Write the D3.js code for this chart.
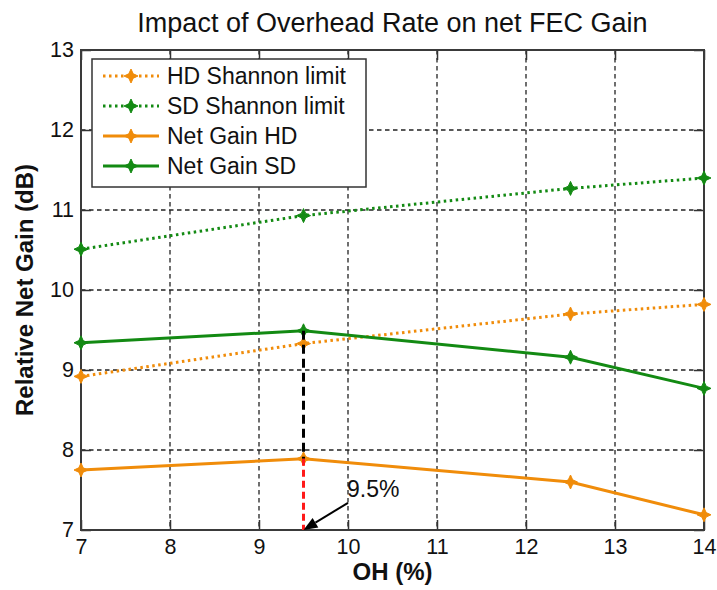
<!DOCTYPE html>
<html>
<head>
<meta charset="utf-8">
<script src="https://cdn.jsdelivr.net/npm/d3@7"></script>
<style>
  html, body { margin: 0; padding: 0; background: #fff; }
  svg { display: block; font-family: "Liberation Sans", Arial, sans-serif; }
</style>
</head>
<body>
<svg id="chart" width="717" height="590"></svg>
<script>
// ---- data ----
const ohValues = [7, 9.5, 12.5, 14];
const hdShannon = [8.92, 9.33, 9.70, 9.82];
const sdShannon = [10.51, 10.93, 11.27, 11.40];
const netGainHD = [7.75, 7.89, 7.60, 7.19];
const netGainSD = [9.34, 9.49, 9.16, 8.77];
const xTicks = [7, 8, 9, 10, 11, 12, 13, 14];
const yTicks = [7, 8, 9, 10, 11, 12, 13];
const seriesNames = ["HD Shannon limit", "SD Shannon limit", "Net Gain HD", "Net Gain SD"];
const optimumOH = 9.5;
const annotationText = "9.5%";
const annotationTail = [10.0, 7.34];
const titleText = "Impact of Overhead Rate on net FEC Gain";
const xLabel = "OH (%)";
const yLabel = "Relative Net Gain (dB)";

// ---- styles ----
const ORANGE = "#f08c0a";
const GREEN = "#138a13";
const series = [
  { name: seriesNames[0], values: hdShannon, color: ORANGE, dash: "2.5,3.5" },
  { name: seriesNames[1], values: sdShannon, color: GREEN, dash: "2.5,3.5" },
  { name: seriesNames[2], values: netGainHD, color: ORANGE, dash: null },
  { name: seriesNames[3], values: netGainSD, color: GREEN, dash: null }
];

const svg = d3.select("#chart");
const L = 81, R = 704, T = 50, B = 530;
const x = d3.scaleLinear().domain([7, 14]).range([L, R]);
const y = d3.scaleLinear().domain([7, 13]).range([B, T]);

// grid
const grid = svg.append("g").attr("stroke", "#222").attr("stroke-width", 1.3).attr("stroke-dasharray", "4.5,3.5");
grid.selectAll("line.vx").data(xTicks.slice(1, -1)).join("line")
  .attr("x1", d => x(d)).attr("x2", d => x(d)).attr("y1", T).attr("y2", B);
grid.selectAll("line.hy").data(yTicks.slice(1, -1)).join("line")
  .attr("y1", d => y(d)).attr("y2", d => y(d)).attr("x1", L).attr("x2", R);

// axes
const fontTick = "21.5px";
const axB = svg.append("g").attr("transform", `translate(0,${B})`)
  .call(d3.axisBottom(x).tickValues(xTicks).tickFormat(d3.format("d")).tickSizeInner(-10).tickSizeOuter(0).tickPadding(9));
const axL = svg.append("g").attr("transform", `translate(${L},0)`)
  .call(d3.axisLeft(y).tickValues(yTicks).tickFormat(d3.format("d")).tickSizeInner(-10).tickSizeOuter(0).tickPadding(7));
const axT = svg.append("g").attr("transform", `translate(0,${T})`)
  .call(d3.axisTop(x).tickValues(xTicks).tickFormat("").tickSizeInner(-10).tickSizeOuter(0));
const axR = svg.append("g").attr("transform", `translate(${R},0)`)
  .call(d3.axisRight(y).tickValues(yTicks).tickFormat("").tickSizeInner(-10).tickSizeOuter(0));
[axB, axL, axT, axR].forEach(a => {
  a.select(".domain").remove();
  a.selectAll(".tick line").attr("stroke", "#333").attr("stroke-width", 1.5);
  a.selectAll(".tick text").attr("fill", "#111").style("font-size", fontTick).style("font-family", "'Liberation Sans', Arial, sans-serif");
});
svg.append("rect").attr("x", L).attr("y", T).attr("width", R - L).attr("height", B - T)
  .attr("fill", "none").attr("stroke", "#3a3a3a").attr("stroke-width", 2);

// marker
function starPath(Ro, ri) {
  const p = [[0,-Ro],[ri,-ri],[Ro,0],[ri,ri],[0,Ro],[-ri,ri],[-Ro,0],[-ri,-ri]];
  return "M" + p.map(q => q.join(",")).join("L") + "Z";
}
const markerD = starPath(7, 2.2);

// lines
const line = d3.line().x((d, i) => x(ohValues[i])).y(d => y(d));
series.forEach(s => {
  svg.append("path").attr("d", line(s.values)).attr("fill", "none")
    .attr("stroke", s.color).attr("stroke-width", 3)
    .attr("stroke-dasharray", s.dash);
  svg.selectAll(null).data(s.values).join("path")
    .attr("d", markerD)
    .attr("transform", (d, i) => `translate(${x(ohValues[i])},${y(d)})`)
    .attr("fill", s.color).attr("stroke", s.color).attr("stroke-width", 1);
});

// annotation lines
const idxOpt = ohValues.indexOf(optimumOH);
svg.append("line").attr("x1", x(optimumOH)).attr("x2", x(optimumOH))
  .attr("y1", y(netGainSD[idxOpt])).attr("y2", y(netGainHD[idxOpt]))
  .attr("stroke", "#000").attr("stroke-width", 3).attr("stroke-dasharray", "9,5");
svg.append("line").attr("x1", x(optimumOH)).attr("x2", x(optimumOH))
  .attr("y1", y(netGainHD[idxOpt])).attr("y2", y(7))
  .attr("stroke", "#ff1a1a").attr("stroke-width", 3).attr("stroke-dasharray", "7,4");

// arrow
const ax0 = x(annotationTail[0]), ay0 = y(annotationTail[1]);
const ax1 = x(optimumOH), ay1 = y(7);
const ang = Math.atan2(ay1 - ay0, ax1 - ax0);
const hl = 14, hw = 5.5;
const bx = ax1 - hl * Math.cos(ang), by = ay1 - hl * Math.sin(ang);
svg.append("line").attr("x1", ax0).attr("y1", ay0).attr("x2", bx).attr("y2", by)
  .attr("stroke", "#000").attr("stroke-width", 2);
svg.append("path")
  .attr("d", `M${ax1},${ay1}L${bx + hw * Math.sin(ang)},${by - hw * Math.cos(ang)}L${bx - hw * Math.sin(ang)},${by + hw * Math.cos(ang)}Z`)
  .attr("fill", "#000");
svg.append("text").attr("x", x(annotationTail[0]) - 1).attr("y", y(7.41))
  .style("font-size", "23px").attr("fill", "#111").text(annotationText);

// legend
const lg = svg.append("g");
lg.append("rect").attr("x", 92).attr("y", 59).attr("width", 274).attr("height", 128)
  .attr("fill", "#fff").attr("stroke", "#333").attr("stroke-width", 1.5);
series.forEach((s, i) => {
  const cy = 76 + i * 30;
  lg.append("line").attr("x1", 103).attr("x2", 159).attr("y1", cy).attr("y2", cy)
    .attr("stroke", s.color).attr("stroke-width", 3).attr("stroke-dasharray", s.dash);
  lg.append("path").attr("d", markerD).attr("transform", `translate(131,${cy})`)
    .attr("fill", s.color).attr("stroke", s.color).attr("stroke-width", 1);
  lg.append("text").attr("x", 167).attr("y", cy).attr("dy", "0.36em")
    .style("font-size", "23px").attr("fill", "#111").text(s.name);
});

// title and labels
svg.append("text").attr("x", (L + R) / 2).attr("y", 32).attr("text-anchor", "middle")
  .style("font-size", "27px").attr("fill", "#111").text(titleText);
svg.append("text").attr("x", (L + R) / 2).attr("y", 580).attr("text-anchor", "middle")
  .style("font-size", "24px").style("font-weight", "bold").attr("fill", "#111").text(xLabel);
svg.append("text").attr("transform", `translate(33,${(T + B) / 2}) rotate(-90)`).attr("text-anchor", "middle")
  .style("font-size", "24px").style("font-weight", "bold").attr("fill", "#111").text(yLabel);
</script>
</body>
</html>
